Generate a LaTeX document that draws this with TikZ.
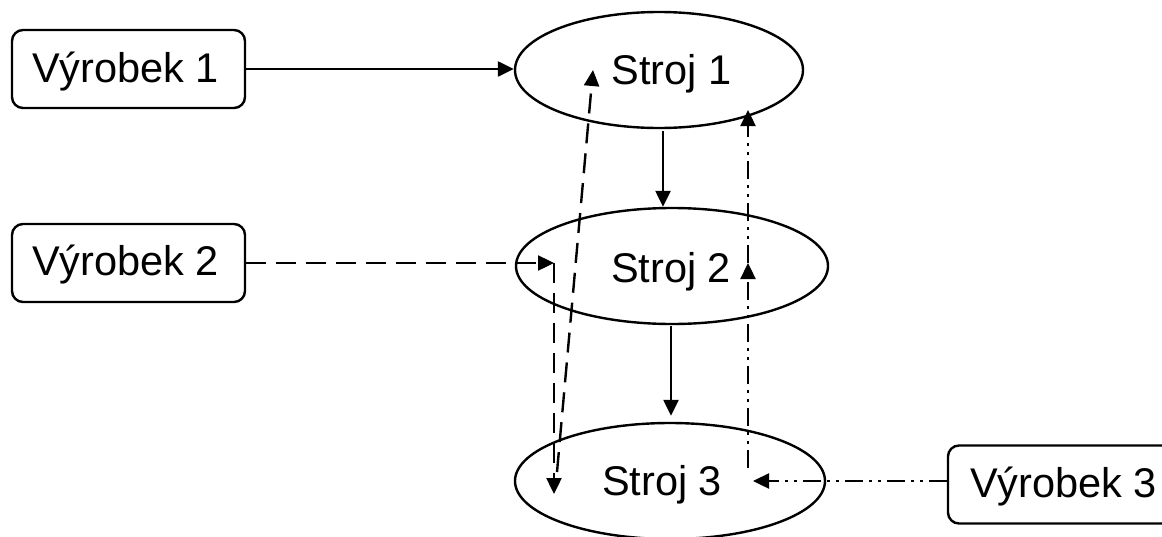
\documentclass[tikz,border=0pt]{standalone}
\usepackage{fontspec}
\setmainfont{Liberation Sans}
\usetikzlibrary{shapes.geometric,arrows.meta}
\begin{document}
\begin{tikzpicture}[x=1pt,y=-1pt,
  lw/.style={line width=2.4pt},
  arr/.style={-{Triangle[length=16pt,width=15pt]}},
  dashpat/.style={dash pattern=on 20pt off 10pt},
  dashdot/.style={dash pattern=on 18pt off 6pt on 3pt off 6pt on 3pt off 6pt},
  machine/.style={draw,ellipse,line width=2.4pt,inner sep=0pt},
  prod/.style={draw,rounded corners=11pt,line width=2.4pt,minimum width=233pt,minimum height=78pt,inner sep=0pt},
  lbl/.style={font=\fontsize{41.5}{49}\selectfont,inner sep=0pt,anchor=base}
]
\useasboundingbox (0,0) rectangle (1162,536);
\clip (0,0) rectangle (1162,536);

\node[prod] (v1) at (128.5,69) {};
\node[lbl,anchor=base west] (t1) at (32,82) {Výrobek 1};
\node[prod] (v2) at (128.5,263) {};
\node[lbl,anchor=base west] (t2) at (32,275) {Výrobek 2};
\node[prod] (v3) at (1064.5,484.5) {};
\node[lbl,anchor=base west] (t3) at (970,497) {Výrobek 3};

\node[machine,minimum width=288pt,minimum height=116pt] (s1) at (659,70) {};
\node[lbl] (l1) at (671.5,84) {Stroj 1};
\node[machine,minimum width=312pt,minimum height=116pt] (s2) at (672,266) {};
\node[lbl] (l2) at (671,282) {Stroj 2};
\node[machine,minimum width=310pt,minimum height=116pt] (s3) at (670,481) {};
\node[lbl] (l3) at (662,495) {Stroj 3};

% solid flow
\draw[lw,arr] (v1.east) -- (v1.east -| s1.west);
\draw[lw,arr] ([xshift=4pt,yshift=-2pt]s1.south) -- ([xshift=4pt]s1.south |- s2.north);
\draw[lw,arr] ([xshift=-1pt,yshift=-1pt]s2.south) -- ([xshift=-1pt,yshift=6pt]s2.south |- s3.north);

% dashed flow
\coordinate (c2) at (554,263);
\coordinate (c2b) at (554,494);
\draw[lw,arr,dashpat] (v2.east) -- (c2);
\draw[lw,arr,dashpat] (c2) -- (c2b);
\coordinate (c3) at (557,472);
\coordinate (c4) at (593,70);
\draw[lw,arr,dashpat] (c3) -- (c4);

% dash-dot flow
\coordinate (c5) at (753,481);
\coordinate (c6) at (748,468);
\coordinate (c7) at (748,263);
\coordinate (c8) at (748,110);
\draw[lw,arr,dashdot] (v3.west |- c5) -- (c5);
\draw[lw,arr,dashdot] (c6) -- (c7);
\draw[lw,arr,dashdot] (c7) -- (c8);
\end{tikzpicture}
\end{document}
